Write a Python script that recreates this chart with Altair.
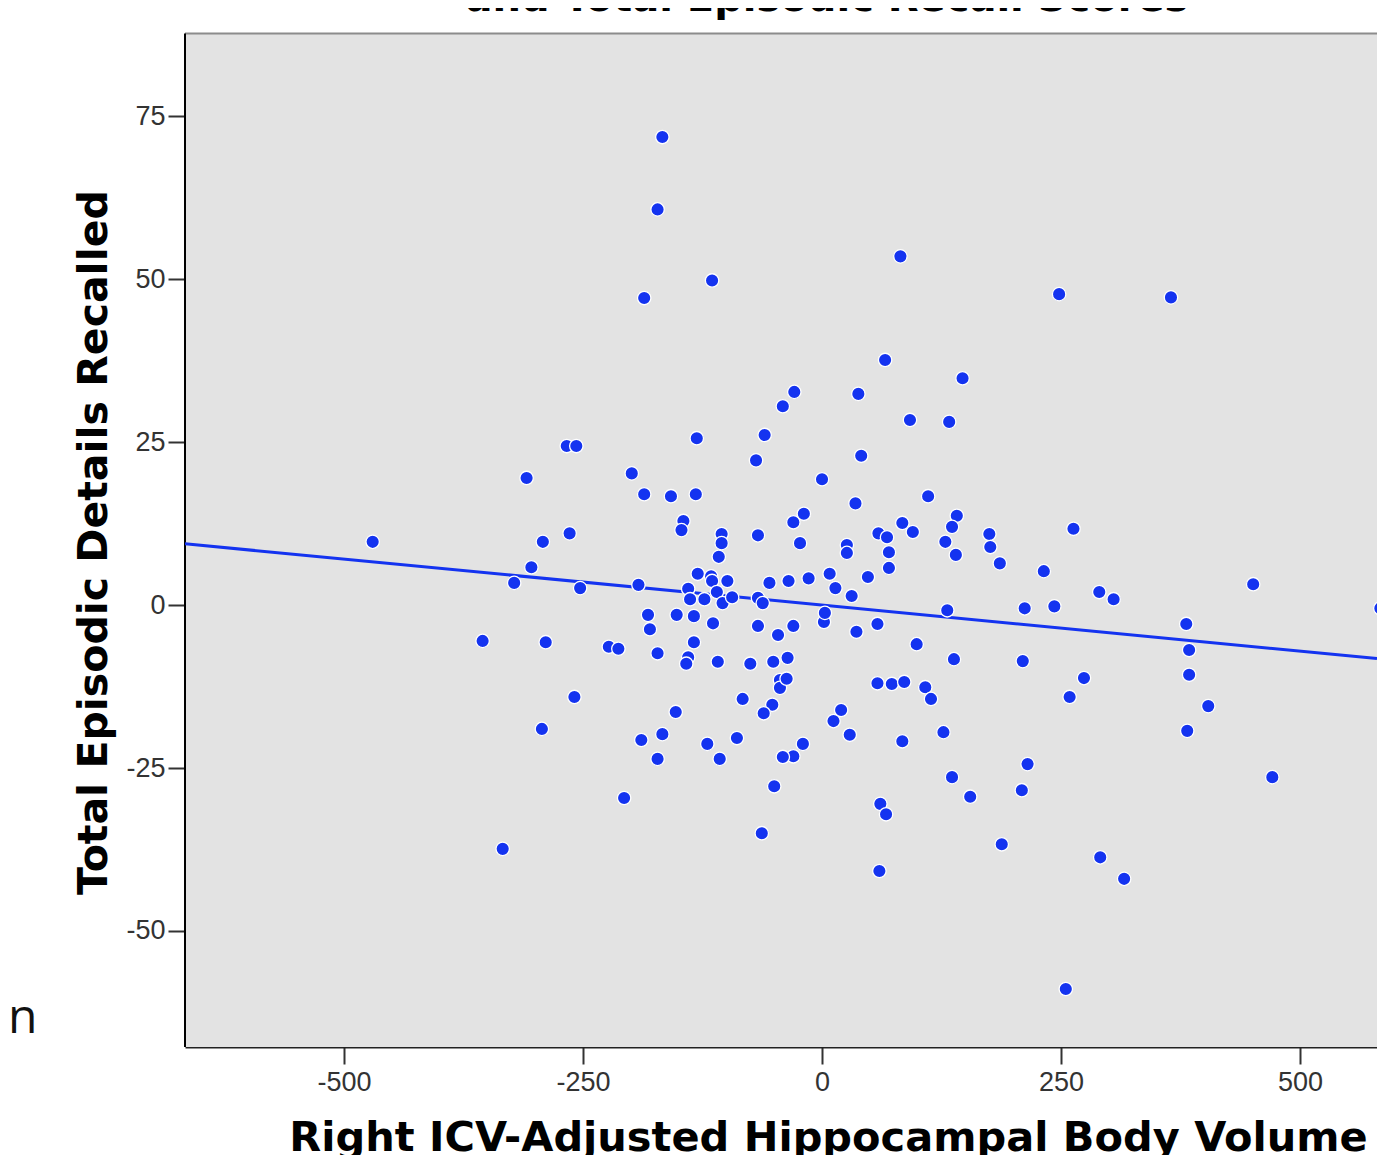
import altair as alt
import pandas as pd

# Right ICV-adjusted hippocampal body volume (x) and total episodic details recalled (y)
volume = [
    -167, -172, -115, -186, 82, 248, 365, 66, 147, -29,
    -41, 38, 92, 133, -131, -60, -267, -257, -69, 41,
    -199, -309, 0, -186, -158, -132, 111, 35, -145, -147,
    -30, -19, -23, 59, 68, 84, 95, -264, -292, -105,
    -105, -67, 141, 136, 129, 140, 175, 176, 186, 263,
    -108, 26, 26, 70, 70, -304, -322, -253, -192, -470,
    -130, -116, -115, -99, -140, -138, -123, -110, -104, -94,
    -55, -35, -14, 8, 14, 31, 48, -67, -62, 232,
    131, 212, 243, 290, 305, 451, 584, -182, -180, -152,
    -134, -114, -67, -46, -30, 2, 3, 36, 58, 99,
    381, 384, 384, 404, 382, 471, -355, -289, -223, -213,
    -172, -134, -140, -142, -109, -75, -51, -36, -44, -44,
    -37, 58, 73, 86, 108, 114, 138, 210, 274, 259,
    -259, -83, -52, -61, 20, 12, -153, -293, -189, -167,
    -172, -120, -107, -89, -20, -30, -41, 29, 84, 127,
    -50, -207, -63, 61, 67, 60, -334, 215, 136, 155,
    209, 188, 291, 316, 255,
]
recall = [
    71.8, 60.7, 49.8, 47.1, 53.5, 47.7, 47.2, 37.6, 34.8, 32.7,
    30.5, 32.4, 28.4, 28.1, 25.6, 26.1, 24.4, 24.4, 22.2, 22.9,
    20.2, 19.5, 19.3, 17.0, 16.7, 17.0, 16.7, 15.6, 12.9, 11.5,
    12.7, 14.0, 9.5, 11.0, 10.4, 12.6, 11.2, 11.0, 9.7, 10.9,
    9.5, 10.7, 13.7, 12.0, 9.7, 7.7, 10.9, 8.9, 6.4, 11.7,
    7.4, 9.2, 8.0, 8.1, 5.7, 5.8, 3.4, 2.6, 3.1, 9.7,
    4.8, 4.4, 3.7, 3.7, 2.5, 0.9, 0.9, 2.0, 0.3, 1.2,
    3.4, 3.7, 4.1, 4.8, 2.6, 1.4, 4.3, 1.1, 0.3, 5.2,
    -0.8, -0.5, -0.2, 2.0, 0.9, 3.2, -0.5, -1.5, -3.7, -1.5,
    -1.7, -2.8, -3.2, -4.6, -3.2, -2.6, -1.2, -4.1, -2.9, -6.0,
    -2.9, -6.9, -10.7, -15.5, -19.3, -26.4, -5.5, -5.7, -6.4, -6.7,
    -7.4, -5.7, -8.0, -9.0, -8.7, -9.0, -8.7, -8.1, -11.5, -12.7,
    -11.3, -12.0, -12.1, -11.8, -12.6, -14.4, -8.3, -8.6, -11.2, -14.1,
    -14.1, -14.4, -15.3, -16.6, -16.1, -17.8, -16.4, -19.0, -20.7, -19.8,
    -23.6, -21.3, -23.6, -20.4, -21.3, -23.2, -23.3, -19.9, -20.9, -19.5,
    -27.8, -29.6, -35.0, -30.5, -32.1, -40.8, -37.4, -24.4, -26.4, -29.4,
    -28.4, -36.7, -38.7, -42.0, -58.9,
]

# Plot frame (what the window shows) and the fitted line
x_range = [-666.3, 580.5]
y_frame = [-67.8, 87.7]      # grey panel
y_view_top = 91.6            # view reaches the top edge of the page body
fit_x = [-666.3, 580.5]
fit_y = [9.4, -8.2]

x_ticks = [-500, -250, 0, 250, 500]
y_ticks = [-50, -25, 0, 25, 50, 75]

title_lines = ["and Total Episodic Recall Scores"]
stray_text = ["n"]

BLUE = "#1433f0"
TITLE_FONT = "DejaVu Sans"
LABEL_FONT = "Liberation Sans"
NEG = "datum.value < 0 ? '-' + abs(datum.value) : '' + datum.value"

pts = pd.DataFrame({"volume": volume, "recall": recall})
fit = pd.DataFrame({"volume": fit_x, "recall": fit_y})
frame = pd.DataFrame({"x0": [x_range[0]], "x1": [x_range[1]],
                      "y0": [y_frame[0]], "y1": [y_frame[1]]})

x_scale = alt.Scale(domain=x_range, nice=False, zero=False)
y_scale = alt.Scale(domain=[y_frame[0], y_view_top], nice=False, zero=False)

x_axis = alt.Axis(
    values=x_ticks, grid=False, title="Right ICV-Adjusted Hippocampal Body Volume",
    labelExpr=NEG,
    domainColor="#222222", domainWidth=2, tickColor="#333333", tickWidth=2, tickSize=17,
    labelFont=LABEL_FONT, labelFontSize=27, labelColor="#333333", labelPadding=5,
    titleFont=TITLE_FONT, titleFontSize=41.5, titleFontWeight="bold", titleColor="black",
    titleX=643, titleY=103, titleBaseline="alphabetic", titleAlign="center",
)
y_axis = alt.Axis(
    values=y_ticks, grid=False, title="Total Episodic Details Recalled",
    labelExpr=NEG, domain=False,
    tickColor="#333333", tickWidth=2, tickSize=17,
    labelFont=LABEL_FONT, labelFontSize=27, labelColor="#333333", labelPadding=3,
    titleFont=TITLE_FONT, titleFontSize=41, titleFontWeight="bold", titleColor="black",
    titleAngle=270, titleX=-79, titleY=534, titleBaseline="alphabetic", titleAlign="center",
)

panel = alt.Chart(frame).mark_rect(color="#e3e3e3").encode(
    x=alt.X("x0:Q", scale=x_scale, axis=x_axis), x2="x1:Q",
    y=alt.Y("y0:Q", scale=y_scale, axis=y_axis), y2="y1:Q",
)
top_border = alt.Chart(frame).mark_rule(color="#8c8c8c", strokeWidth=2).encode(
    x=alt.X("x0:Q", scale=x_scale), x2="x1:Q", y=alt.Y("y1:Q", scale=y_scale),
)
left_border = alt.Chart(frame).mark_rule(color="black", strokeWidth=2).encode(
    x=alt.X("x0:Q", scale=x_scale), y=alt.Y("y0:Q", scale=y_scale), y2="y1:Q",
)

line = alt.Chart(fit).mark_line(color=BLUE, strokeWidth=3, clip=True).encode(
    x=alt.X("volume:Q", scale=x_scale),
    y=alt.Y("recall:Q", scale=y_scale),
)

points = alt.Chart(pts).mark_circle(
    size=180, color=BLUE, opacity=1, stroke="white", strokeWidth=1.3, clip=True
).encode(
    x=alt.X("volume:Q", scale=x_scale),
    y=alt.Y("recall:Q", scale=y_scale),
)

top_title = alt.Chart(pd.DataFrame({"t": title_lines})).mark_text(
    font=TITLE_FONT, fontSize=40, fontWeight="bold", color="black",
    align="center", baseline="alphabetic",
).encode(x=alt.value(642), y=alt.value(3), text="t:N")

stray = alt.Chart(pd.DataFrame({"t": stray_text})).mark_text(
    font="Open Sans", fontSize=48, color="#111111", align="left", baseline="alphabetic",
).encode(x=alt.value(-177), y=alt.value(1025), text="t:N")

chart = alt.layer(panel, top_border, left_border, line, points, top_title, stray).properties(
    width=1192,
    height=1039,
    autosize=alt.AutoSizeParams(type="none"),
    padding={"left": 177, "top": 0, "right": 0, "bottom": 108},
    background="white",
).configure_view(
    fill="white", stroke=None, strokeWidth=0
)

chart.save("out.html", embed_options={"renderer": "svg", "actions": False})
